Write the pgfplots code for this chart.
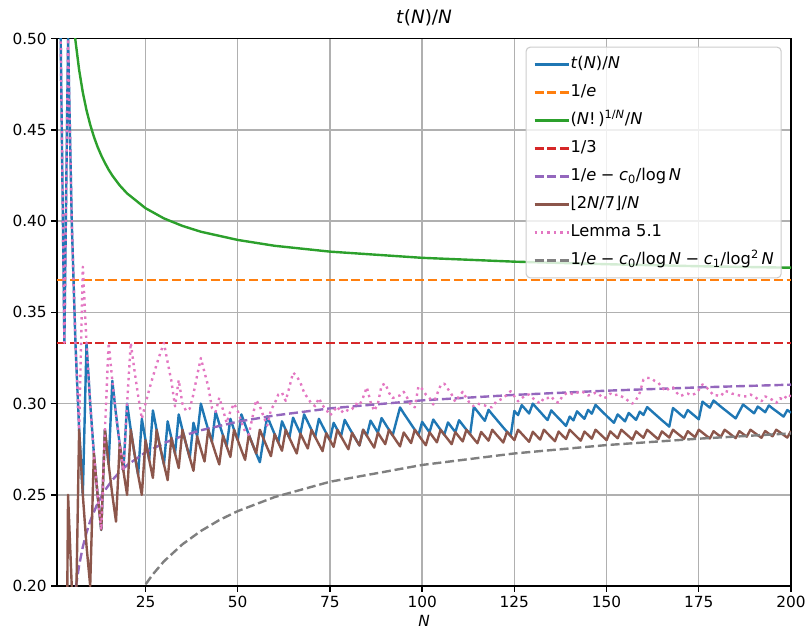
\documentclass[border=0pt]{standalone}
\usepackage{fontspec}
\setmainfont{DejaVu Sans}
\usepackage{pgfplots}
\pgfplotsset{compat=1.18}
\definecolor{c0}{HTML}{1F77B4}
\definecolor{c1}{HTML}{FF7F0E}
\definecolor{c2}{HTML}{2CA02C}
\definecolor{c3}{HTML}{D62728}
\definecolor{c4}{HTML}{9467BD}
\definecolor{c5}{HTML}{8C564B}
\definecolor{c6}{HTML}{E377C2}
\definecolor{c7}{HTML}{7F7F7F}
\definecolor{gridc}{HTML}{B0B0B0}
\definecolor{legc}{HTML}{CCCCCC}
\newcommand{\fs}{\fontsize{11.5}{13.5}\selectfont}
\newcommand{\fl}{\fontsize{12.2}{14}\selectfont}
\newcommand{\mm}{\hspace{0.28em}−\hspace{0.28em}}
\begin{document}
\begin{tikzpicture}
\begin{axis}[
  scale only axis, width=550.5pt, height=410.6pt,
  xmin=1, xmax=200, ymin=0.2, ymax=0.5,
  xtick={25,50,75,100,125,150,175,200},
  ytick={0.2,0.25,0.3,0.35,0.4,0.45,0.5},
  yticklabel style={/pgf/number format/fixed, /pgf/number format/fixed zerofill, /pgf/number format/precision=2},
  /pgf/number format/assume math mode=true,
  ticklabel style={font=\fs},
  tick align=outside, tick pos=left,
  major tick length=4.2pt,
  every tick/.style={black, line width=1pt},
  axis line style={line width=1pt},
  grid=major, grid style={line width=1pt, color=gridc},
  title={\textit{t}(\textit{N})/\textit{N}},
  title style={font=\fontsize{13.8}{16}\selectfont, at={(0.5,1)}, anchor=south, inner sep=0pt, yshift=3pt},
  xlabel={\textit{N}},
  xlabel style={font=\fs, at={(0.5,0)}, anchor=north, inner sep=0pt, yshift=-21.5pt},
  every axis plot/.append style={line width=1.8pt, line join=round},
  legend cell align=left,
  legend image code/.code={\draw[#1] (0pt,0pt) -- (26pt,0pt);},
  legend style={at={(1,1)}, anchor=north east, xshift=-7pt, yshift=-6pt,
    draw=legc, line width=0.8pt, rounded corners=3pt,
    fill=white, fill opacity=0.8, text opacity=1, draw opacity=1,
    font=\fl, inner xsep=5.5pt, inner ysep=7pt, row sep=9pt,
    nodes={inner sep=0pt, text height=9pt, text depth=3pt},
    /tikz/every even column/.append style={column sep=10pt}},
]
% t(N)/N
\addplot[c0] coordinates {(1,1.0000)(2,0.5000)(3,0.3333)(4,0.5000)(5,0.4000)(6,0.3333)(7,0.2857)(8,0.2500)(9,0.3333)(10,0.3000)(11,0.2727)(12,0.2500)(13,0.2308)(14,0.2857)(15,0.2667)(16,0.3125)(17,0.2941)(18,0.2778)(19,0.2632)(20,0.3000)(21,0.2857)(22,0.2727)(23,0.2609)(24,0.2917)(25,0.2800)(26,0.2692)(27,0.2963)(28,0.2857)(29,0.2759)(30,0.2667)(31,0.2903)(32,0.2813)(33,0.2727)(34,0.2941)(35,0.2857)(36,0.2778)(37,0.2703)(38,0.2895)(39,0.2821)(40,0.3000)(41,0.2927)(42,0.2857)(43,0.2791)(44,0.2955)(45,0.2889)(46,0.2826)(47,0.2766)(48,0.2917)(49,0.2857)(50,0.2800)(51,0.2941)(52,0.2885)(53,0.2830)(54,0.2778)(55,0.2727)(56,0.2679)(57,0.2807)(58,0.2931)(59,0.2881)(60,0.2833)(61,0.2787)(62,0.2903)(63,0.2857)(64,0.2813)(65,0.2923)(66,0.2879)(67,0.2836)(68,0.2941)(69,0.2899)(70,0.2857)(71,0.2817)(72,0.2917)(73,0.2877)(74,0.2838)(75,0.2800)(76,0.2895)(77,0.2857)(78,0.2821)(79,0.2911)(80,0.2875)(81,0.2840)(82,0.2805)(83,0.2771)(84,0.2857)(85,0.2824)(86,0.2907)(87,0.2874)(88,0.2841)(89,0.2921)(90,0.2889)(91,0.2857)(92,0.2826)(93,0.2903)(94,0.2979)(95,0.2947)(96,0.2917)(97,0.2887)(98,0.2857)(99,0.2828)(100,0.2900)(101,0.2871)(102,0.2843)(103,0.2913)(104,0.2885)(105,0.2857)(106,0.2830)(107,0.2897)(108,0.2870)(109,0.2844)(110,0.2909)(111,0.2883)(112,0.2857)(113,0.2832)(114,0.2982)(115,0.2957)(116,0.2931)(117,0.2906)(118,0.2966)(119,0.2941)(120,0.2917)(121,0.2893)(122,0.2869)(123,0.2846)(124,0.2823)(125,0.2960)(126,0.2937)(127,0.2992)(128,0.2969)(129,0.2946)(130,0.3000)(131,0.2977)(132,0.2955)(133,0.2932)(134,0.2910)(135,0.2963)(136,0.2941)(137,0.2920)(138,0.2899)(139,0.2878)(140,0.2929)(141,0.2908)(142,0.2958)(143,0.2937)(144,0.2917)(145,0.2966)(146,0.2945)(147,0.2993)(148,0.2973)(149,0.2953)(150,0.2933)(151,0.2914)(152,0.2895)(153,0.2941)(154,0.2922)(155,0.2903)(156,0.2949)(157,0.2930)(158,0.2911)(159,0.2956)(160,0.2938)(161,0.2981)(162,0.2963)(163,0.2945)(164,0.2927)(165,0.2909)(166,0.2892)(167,0.2874)(168,0.2976)(169,0.2959)(170,0.2941)(171,0.2924)(172,0.2965)(173,0.2948)(174,0.2931)(175,0.2914)(176,0.3011)(177,0.2994)(178,0.2978)(179,0.3017)(180,0.3000)(181,0.2983)(182,0.2967)(183,0.2951)(184,0.2935)(185,0.2919)(186,0.2957)(187,0.2995)(188,0.2979)(189,0.2963)(190,0.2947)(191,0.2984)(192,0.2969)(193,0.2953)(194,0.2990)(195,0.2974)(196,0.2959)(197,0.2944)(198,0.2929)(199,0.2965)(200,0.2950)};
\addlegendentry{\textit{t}(\textit{N})/\textit{N}}
% 1/e
\addplot[c1, dash pattern=on 6.7pt off 2.9pt] coordinates {(1,0.367879)(200,0.367879)};
\addlegendentry{1/\textit{e}}
% (N!)^(1/N)/N
\addplot[c2] coordinates {(1,1.0)(2,0.7071)(3,0.6057)(4,0.5533)(5,0.5210)(6,0.4990)(7,0.4829)(8,0.4705)(9,0.4608)(10,0.4529)(11,0.4463)(12,0.4407)(13,0.4360)(14,0.4319)(15,0.4282)(16,0.4250)(18,0.4196)(20,0.4152)(25,0.4071)(30,0.4015)(35,0.3974)(40,0.3942)(50,0.3897)(60,0.3865)(75,0.3833)(100,0.3799)(125,0.3778)(150,0.3764)(175,0.3753)(200,0.3745)};
\addlegendentry{(\textit{N}!\,)\textsuperscript{1/\textit{N}}/\textit{N}}
% 1/3
\addplot[c3, dash pattern=on 6.7pt off 2.9pt] coordinates {(1,0.333333)(200,0.333333)};
\addlegendentry{1/3}
% 1/e - c0/log N
\addplot[c4, dash pattern=on 6.7pt off 2.9pt] coordinates {(5,0.1787)(6,0.1980)(7,0.2114)(8,0.2215)(9,0.2293)(10,0.2357)(12,0.2454)(14,0.2525)(16,0.2581)(18,0.2626)(20,0.2663)(25,0.2733)(30,0.2784)(35,0.2823)(40,0.2854)(50,0.2901)(60,0.2935)(75,0.2974)(100,0.3018)(125,0.3048)(150,0.3071)(175,0.3089)(200,0.3104)};
\addlegendentry{1/\textit{e}\mm\textit{c}\textsubscript{0}/log\,\textit{N}}
% floor(2N/7)/N
\addplot[c5] coordinates {(1,0)(2,0)(3,0)(4,0.2500)(5,0.2000)(6,0.1667)(7,0.2857)(8,0.2500)(9,0.2222)(10,0.2000)(11,0.2727)(12,0.2500)(13,0.2308)(14,0.2857)(15,0.2667)(16,0.2500)(17,0.2353)(18,0.2778)(19,0.2632)(20,0.2500)(21,0.2857)(22,0.2727)(23,0.2609)(24,0.2500)(25,0.2800)(26,0.2692)(27,0.2593)(28,0.2857)(29,0.2759)(30,0.2667)(31,0.2581)(32,0.2813)(33,0.2727)(34,0.2647)(35,0.2857)(36,0.2778)(37,0.2703)(38,0.2632)(39,0.2821)(40,0.2750)(41,0.2683)(42,0.2857)(43,0.2791)(44,0.2727)(45,0.2667)(46,0.2826)(47,0.2766)(48,0.2708)(49,0.2857)(50,0.2800)(51,0.2745)(52,0.2692)(53,0.2830)(54,0.2778)(55,0.2727)(56,0.2857)(57,0.2807)(58,0.2759)(59,0.2712)(60,0.2833)(61,0.2787)(62,0.2742)(63,0.2857)(64,0.2813)(65,0.2769)(66,0.2727)(67,0.2836)(68,0.2794)(69,0.2754)(70,0.2857)(71,0.2817)(72,0.2778)(73,0.2740)(74,0.2838)(75,0.2800)(76,0.2763)(77,0.2857)(78,0.2821)(79,0.2785)(80,0.2750)(81,0.2840)(82,0.2805)(83,0.2771)(84,0.2857)(85,0.2824)(86,0.2791)(87,0.2759)(88,0.2841)(89,0.2809)(90,0.2778)(91,0.2857)(92,0.2826)(93,0.2796)(94,0.2766)(95,0.2842)(96,0.2813)(97,0.2784)(98,0.2857)(99,0.2828)(100,0.2800)(101,0.2772)(102,0.2843)(103,0.2816)(104,0.2788)(105,0.2857)(106,0.2830)(107,0.2804)(108,0.2778)(109,0.2844)(110,0.2818)(111,0.2793)(112,0.2857)(113,0.2832)(114,0.2807)(115,0.2783)(116,0.2845)(117,0.2821)(118,0.2797)(119,0.2857)(120,0.2833)(121,0.2810)(122,0.2787)(123,0.2846)(124,0.2823)(125,0.2800)(126,0.2857)(127,0.2835)(128,0.2813)(129,0.2791)(130,0.2846)(131,0.2824)(132,0.2803)(133,0.2857)(134,0.2836)(135,0.2815)(136,0.2794)(137,0.2847)(138,0.2826)(139,0.2806)(140,0.2857)(141,0.2837)(142,0.2817)(143,0.2797)(144,0.2847)(145,0.2828)(146,0.2808)(147,0.2857)(148,0.2838)(149,0.2819)(150,0.2800)(151,0.2848)(152,0.2829)(153,0.2810)(154,0.2857)(155,0.2839)(156,0.2821)(157,0.2803)(158,0.2848)(159,0.2830)(160,0.2813)(161,0.2857)(162,0.2840)(163,0.2822)(164,0.2805)(165,0.2848)(166,0.2831)(167,0.2814)(168,0.2857)(169,0.2840)(170,0.2824)(171,0.2807)(172,0.2849)(173,0.2832)(174,0.2816)(175,0.2857)(176,0.2841)(177,0.2825)(178,0.2809)(179,0.2849)(180,0.2833)(181,0.2818)(182,0.2857)(183,0.2842)(184,0.2826)(185,0.2811)(186,0.2849)(187,0.2834)(188,0.2819)(189,0.2857)(190,0.2842)(191,0.2827)(192,0.2813)(193,0.2850)(194,0.2835)(195,0.2821)(196,0.2857)(197,0.2843)(198,0.2828)(199,0.2814)(200,0.2850)};
\addlegendentry{⌊2\textit{N}/7⌋/\textit{N}}
% Lemma 5.1
\addplot[c6, dash pattern=on 1.8pt off 3pt] coordinates {(1,1.0)(2,0.5)(3,0.3333)(4,0.5)(5,0.4)(6,0.3333)(7,0.2857)(8,0.375)(9,0.3333)(10,0.3)(11,0.2727)(12,0.25)(13,0.2308)(14,0.2857)(15,0.3333)(16,0.3125)(17,0.2941)(18,0.2778)(19,0.2632)(20,0.30)(21,0.3333)(22,0.3182)(23,0.3043)(24,0.2917)(25,0.30)(26,0.3077)(27,0.3148)(28,0.3214)(29,0.3276)(30,0.3333)(31,0.3226)(32,0.3125)(33,0.2985)(34,0.3130)(35,0.3000)(36,0.2960)(37,0.2973)(38,0.3053)(39,0.3154)(40,0.3250)(41,0.3171)(42,0.3095)(43,0.2977)(44,0.2955)(45,0.3033)(46,0.2967)(47,0.2894)(48,0.2958)(49,0.3000)(50,0.2960)(51,0.2900)(52,0.2846)(53,0.2830)(54,0.2926)(55,0.3020)(56,0.2986)(57,0.2930)(58,0.2880)(59,0.2966)(60,0.3000)(61,0.3050)(62,0.3060)(63,0.3015)(64,0.3090)(65,0.3170)(66,0.3150)(67,0.3115)(68,0.3060)(69,0.3030)(70,0.3000)(71,0.2986)(72,0.3030)(73,0.2990)(74,0.2968)(75,0.2935)(76,0.2960)(77,0.2985)(78,0.2950)(79,0.2970)(80,0.2960)(81,0.2970)(82,0.3000)(83,0.2990)(84,0.3035)(85,0.3090)(86,0.3010)(87,0.2960)(88,0.3000)(89,0.3100)(90,0.3110)(91,0.3060)(92,0.3030)(93,0.3040)(94,0.3045)(95,0.3065)(96,0.3030)(97,0.2990)(98,0.2980)(99,0.3095)(100,0.3080)(101,0.3050)(102,0.3030)(103,0.2995)(104,0.3050)(105,0.3100)(106,0.3110)(107,0.3080)(108,0.3050)(109,0.3010)(110,0.3040)(111,0.3065)(112,0.3030)(113,0.3000)(114,0.2986)(115,0.3000)(116,0.2995)(117,0.2990)(118,0.2980)(119,0.2980)(120,0.3010)(121,0.3020)(122,0.3030)(123,0.3050)(124,0.3068)(125,0.3040)(126,0.3013)(127,0.3030)(128,0.3045)(129,0.3050)(130,0.3030)(131,0.3015)(132,0.3000)(133,0.3031)(134,0.3030)(135,0.3040)(136,0.3013)(137,0.3005)(138,0.3040)(139,0.3055)(140,0.3060)(141,0.3050)(142,0.3060)(143,0.3068)(144,0.3060)(145,0.3045)(146,0.3050)(147,0.3060)(148,0.3050)(149,0.3030)(150,0.3035)(151,0.3055)(152,0.3045)(153,0.3050)(154,0.3040)(155,0.3030)(156,0.3013)(157,0.3000)(158,0.3020)(159,0.3060)(160,0.3132)(161,0.3141)(162,0.3140)(163,0.3125)(164,0.3115)(165,0.3090)(166,0.3068)(167,0.3085)(168,0.3090)(169,0.3060)(170,0.3041)(171,0.3050)(172,0.3055)(173,0.3045)(174,0.3055)(175,0.3075)(176,0.3105)(177,0.3090)(178,0.3070)(179,0.3045)(180,0.3045)(181,0.3041)(182,0.3070)(183,0.3065)(184,0.3055)(185,0.3050)(186,0.3045)(187,0.3040)(188,0.3040)(189,0.3050)(190,0.3040)(191,0.3025)(192,0.3013)(193,0.3040)(194,0.3030)(195,0.3020)(196,0.3004)(197,0.3030)(198,0.3020)(199,0.3050)(200,0.3040)};
\addlegendentry{Lemma 5.1}
% 1/e - c0/log N - c1/log^2 N
\addplot[c7, dash pattern=on 6.7pt off 2.9pt] coordinates {(20,0.1827)(22,0.1909)(24,0.1978)(25,0.2009)(27,0.2065)(30,0.2136)(35,0.2229)(40,0.2302)(45,0.2362)(50,0.2411)(60,0.2488)(75,0.2572)(100,0.2664)(125,0.2727)(150,0.2773)(175,0.2808)(200,0.2837)};
\addlegendentry{1/\textit{e}\mm\textit{c}\textsubscript{0}/log\,\textit{N}\mm\textit{c}\textsubscript{1}/log\textsuperscript{2}\,\textit{N}}
\end{axis}
\pgfresetboundingbox
\path[use as bounding box] ([shift={(-42.75pt,-33.75pt)}]current axis.south west) rectangle ([shift={(12pt,29pt)}]current axis.north east);
\end{tikzpicture}
\end{document}
